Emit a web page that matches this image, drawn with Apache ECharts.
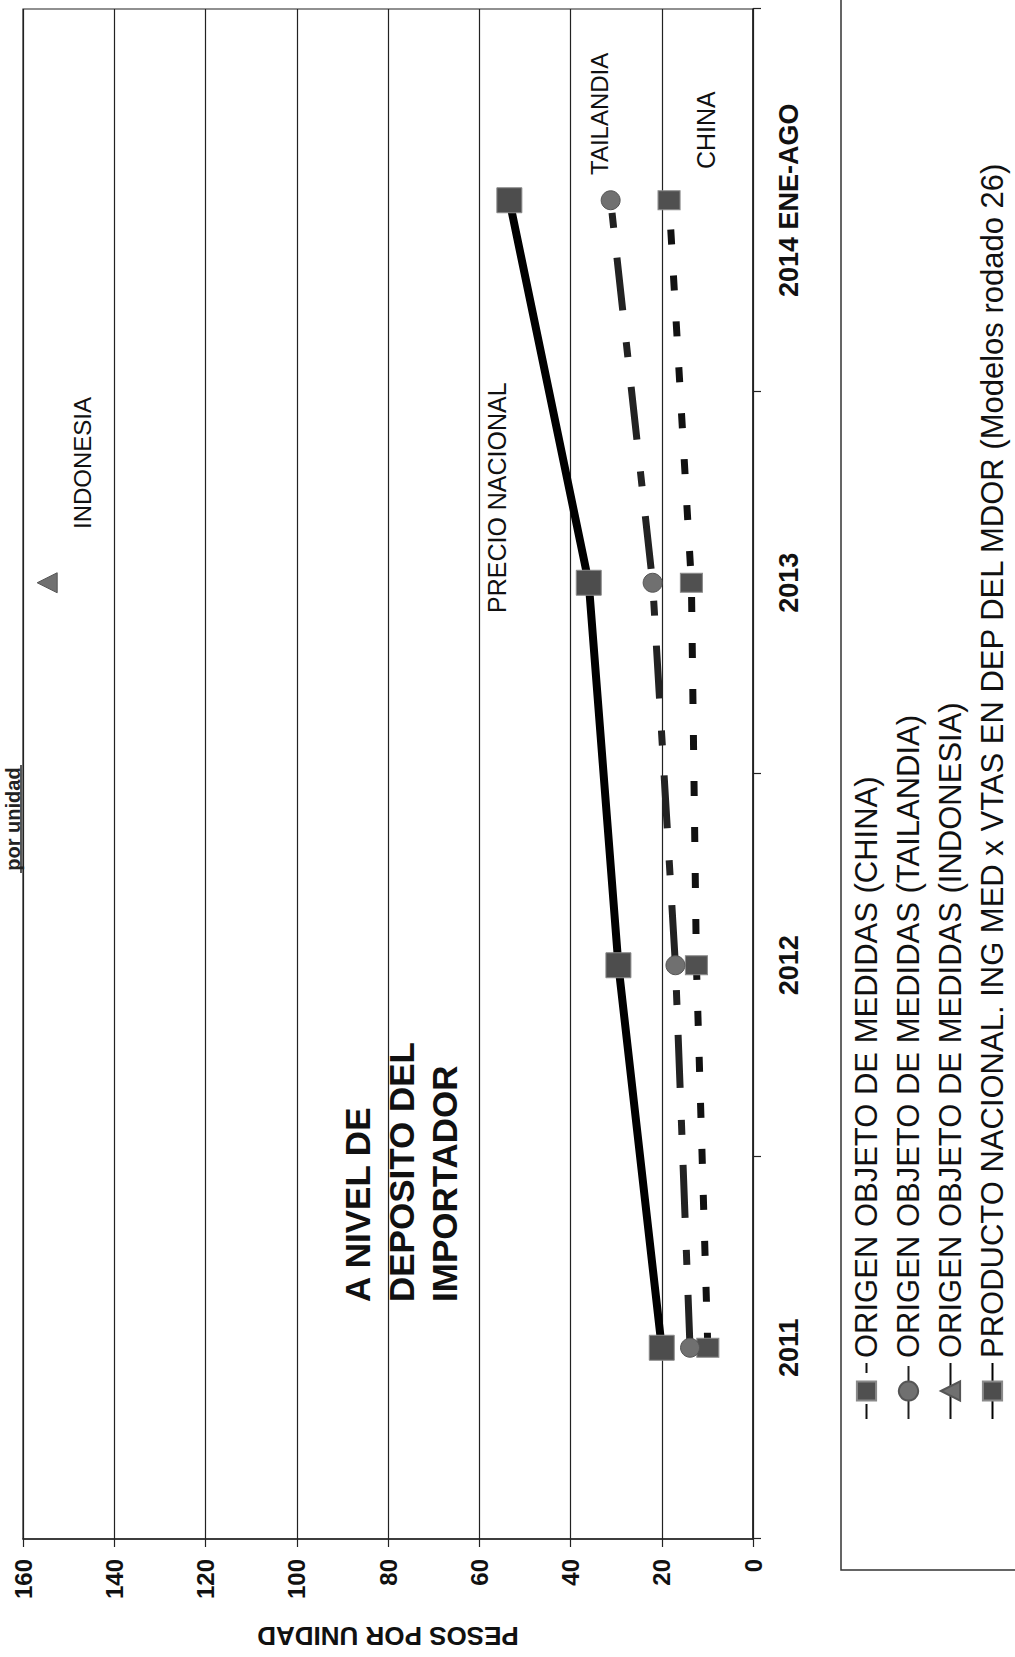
<!DOCTYPE html>
<html>
<head>
<meta charset="utf-8">
<script src="https://cdn.jsdelivr.net/npm/echarts@6/dist/echarts.min.js"></script>
<style>
html,body{margin:0;padding:0;background:#fff;overflow:hidden;width:1015px;height:1657px;}
#wrap{position:absolute;left:0;top:0;width:1657px;height:1015px;transform-origin:0 0;transform:translate(0,1657px) rotate(-90deg);}
#chart{width:1657px;height:1015px;}
</style>
</head>
<body>
<div id="wrap"><div id="chart"></div></div>
<script>
var categories = ['2011', '2012', '2013', '2014 ENE-AGO'];
var valueTicks = [0, 20, 40, 60, 80, 100, 120, 140, 160];
var seriesNames = [
  'ORIGEN OBJETO DE MEDIDAS (CHINA)',
  'ORIGEN OBJETO DE MEDIDAS (TAILANDIA)',
  'ORIGEN OBJETO DE MEDIDAS (INDONESIA)',
  'PRODUCTO NACIONAL. ING MED x VTAS EN DEP DEL MDOR (Modelos rodado 26)'
];
var china = [9.9, 12.4, 13.5, 18.4];
var tailandia = [13.8, 17.0, 22.0, 31.2];
var indonesia = [null, null, 154.7, null];
var nacional = [20.0, 29.5, 36.0, 53.4];

var FONT = 'Liberation Sans, Arial, sans-serif';
var chart = echarts.init(document.getElementById('chart'), null, {renderer: 'svg'});
var option = {
  backgroundColor: '#fff',
  animation: false,
  grid: {left: 100, right: 9, top: 23, bottom: 262, show: true, borderColor: '#222', borderWidth: 1.2},
  xAxis: {
    type: 'category', data: categories, boundaryGap: true,
    axisLine: {lineStyle: {color: '#222', width: 1.5}},
    axisTick: {show: true, length: 8, lineStyle: {color: '#222', width: 1.2}},
    axisLabel: {color: '#111', fontFamily: FONT, fontWeight: 'bold', fontSize: 27, margin: 22}
  },
  yAxis: {
    type: 'value', min: valueTicks[0], max: valueTicks[valueTicks.length - 1], interval: 20,
    name: 'PESOS POR UNIDAD', nameLocation: 'middle', nameGap: 84,
    nameTextStyle: {color: '#111', fontFamily: 'Liberation Sans Narrow, Arial Narrow, Liberation Sans, sans-serif', fontWeight: 'bold', fontSize: 26},
    axisLine: {show: true, lineStyle: {color: '#222', width: 1.5}},
    axisTick: {show: true, length: 8, lineStyle: {color: '#222', width: 1.2}},
    axisLabel: {color: '#111', fontFamily: FONT, fontWeight: 'bold', fontSize: 24, margin: 20},
    splitLine: {show: true, lineStyle: {color: '#222', width: 1.2}}
  },
  legend: {
    orient: 'vertical', left: 232, top: 846, height: 220, itemWidth: 56, itemHeight: 24, itemGap: 11,
    textStyle: {color: '#111', fontFamily: FONT, fontSize: 31},
    data: seriesNames
  },
  series: [
    {name: seriesNames[0], type: 'line', data: china, symbol: 'rect', symbolSize: [19, 22],
     lineStyle: {color: '#111', width: 7, type: [15, 31]},
     itemStyle: {color: '#505050', borderColor: '#8a8a8a', borderWidth: 1}},
    {name: seriesNames[1], type: 'line', data: tailandia, symbol: 'circle', symbolSize: 19,
     lineStyle: {color: '#222', width: 7, type: [53, 30, 15, 32]},
     itemStyle: {color: '#707070', borderColor: '#555', borderWidth: 1}},
    {name: seriesNames[2], type: 'line', data: indonesia, symbol: 'triangle', symbolSize: 20,
     lineStyle: {color: '#111', width: 7},
     itemStyle: {color: '#707070', borderColor: '#555', borderWidth: 1}},
    {name: seriesNames[3], type: 'line', data: nacional, symbol: 'rect', symbolSize: 25,
     lineStyle: {color: '#000', width: 8},
     itemStyle: {color: '#4d4d4d', borderColor: '#8a8a8a', borderWidth: 1}}
  ],
  graphic: [
    {type: 'rect', shape: {x: 87, y: 841, width: 1700, height: 300}, style: {fill: 'none', stroke: '#333', lineWidth: 1.5}, silent: true},
    {type: 'text', x: 355, y: 336, style: {text: 'A NIVEL DE\nDEPOSITO DEL\nIMPORTADOR', font: 'bold 35px ' + FONT, fill: '#111', lineHeight: 43.5, verticalAlign: 'top', align: 'left'}},
    {type: 'text', x: 1044, y: 497, style: {text: 'PRECIO NACIONAL', font: '25px ' + FONT, fill: '#111', verticalAlign: 'middle', align: 'left'}},
    {type: 'text', x: 1482, y: 599, style: {text: 'TAILANDIA', font: '24px ' + FONT, fill: '#111', verticalAlign: 'middle', align: 'left'}},
    {type: 'text', x: 1488, y: 706, style: {text: 'CHINA', font: '25px ' + FONT, fill: '#111', verticalAlign: 'middle', align: 'left'}},
    {type: 'text', x: 1128, y: 82, style: {text: 'INDONESIA', font: '24px ' + FONT, fill: '#111', verticalAlign: 'middle', align: 'left'}},
    {type: 'text', x: 838, y: 3, style: {text: 'por unidad', font: 'bold 20px ' + FONT, fill: '#222', verticalAlign: 'top', align: 'center'}},
    {type: 'line', shape: {x1: 784, y1: 21, x2: 892, y2: 21}, style: {stroke: '#222', lineWidth: 1.5}}
  ]
};
chart.setOption(option);
</script>
</body>
</html>
